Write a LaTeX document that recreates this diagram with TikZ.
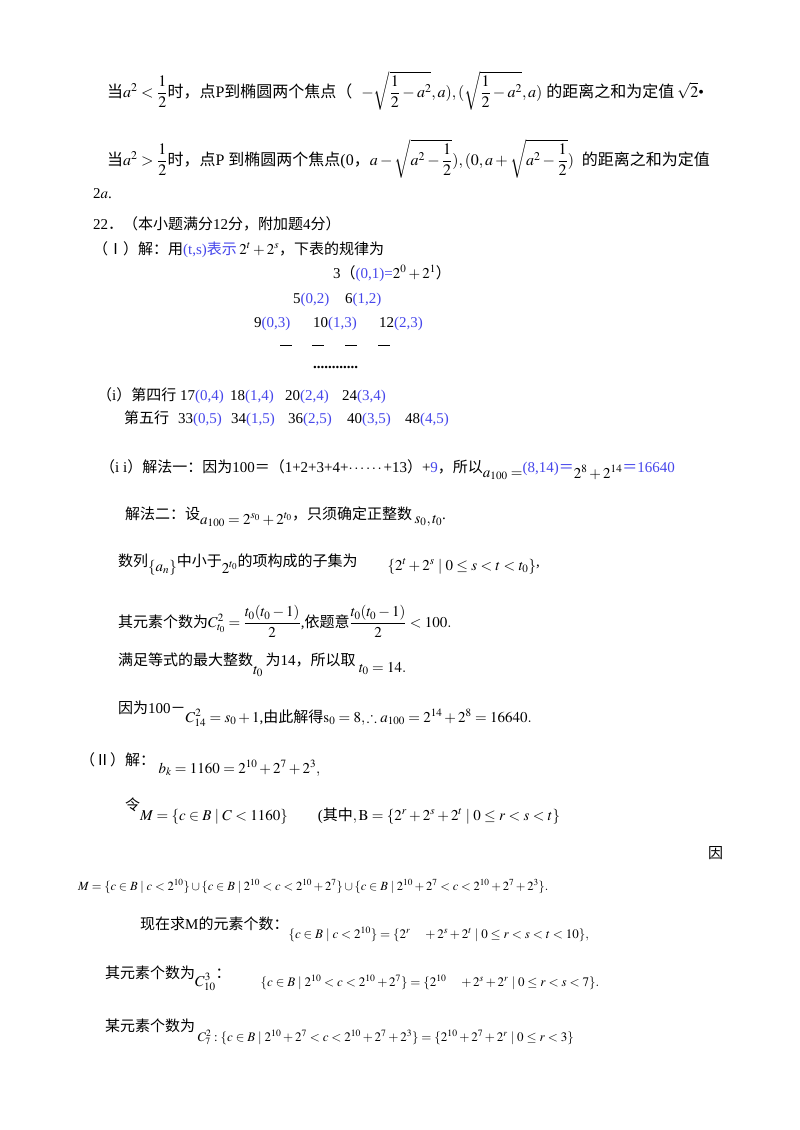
\documentclass[tikz,border=0pt]{standalone}
\usepackage{amsmath}
\usepackage{mathptmx}
\usepackage{amssymb}
\usepackage{fontspec}
\setmainfont{Liberation Serif}
\newfontfamily\cjk{Noto Sans CJK SC}
\makeatletter
\XeTeXinterchartokenstate=1
\newXeTeXintercharclass\cjkcls
\count@="4E00 \loop\ifnum\count@<"A000 \XeTeXcharclass\count@=\cjkcls\advance\count@ 1 \repeat
\count@="3000 \loop\ifnum\count@<"3040 \XeTeXcharclass\count@=\cjkcls\advance\count@ 1 \repeat
\count@="FF00 \loop\ifnum\count@<"FFF0 \XeTeXcharclass\count@=\cjkcls\advance\count@ 1 \repeat
\count@="2160 \loop\ifnum\count@<"2180 \XeTeXcharclass\count@=\cjkcls\advance\count@ 1 \repeat
\makeatother
\XeTeXinterchartoks 0 \cjkcls = {\begingroup\cjk}
\XeTeXinterchartoks 4095 \cjkcls = {\begingroup\cjk}
\XeTeXinterchartoks \cjkcls 0 = {\endgroup}
\XeTeXinterchartoks \cjkcls 4095 = {\endgroup}
\definecolor{bl}{RGB}{70,70,235}
\newcommand{\bb}[1]{\textcolor{bl}{#1}}
\begin{document}
\begin{tikzpicture}[x=1pt,y=-1pt,
  tx/.style={anchor=base west,inner sep=0pt,font=\fontsize{15}{18}\selectfont},
  big/.style={anchor=base west,inner sep=0pt,font=\fontsize{16}{19}\selectfont},
  sm/.style={anchor=base west,inner sep=0pt,font=\fontsize{12.5}{15}\selectfont}]
\useasboundingbox (0,0) rectangle (800,1130);
\fill[white] (0,0) rectangle (800,1130);
\node[big] (l1) at (107,97) {当$a^2<\dfrac12$时，点P到椭圆两个焦点（\;\;$-\sqrt{\dfrac12-a^2},a),(\sqrt{\dfrac12-a^2},a)$\ 的距离之和为定值\,$\sqrt2$\textbullet};
\node[big] (l2) at (107,165) {当$a^2>\dfrac12$时，点P 到椭圆两个焦点(0，$a-\sqrt{a^2-\dfrac12}),(0,a+\sqrt{a^2-\dfrac12})$\ \ 的距离之和为定值};
\node[tx] (l3) at (93,198) {2$a$.};
\node[tx] (l4) at (93,229) {22．（本小题满分12分，附加题4分）};
\node[tx] (l5) at (93,254) {（Ⅰ）解：用\bb{(t,s)表示}\,$2^t+2^s$，下表的规律为};
\node[tx] (r1) at (333,278) {3（\bb{(0,1)=}$2^0+2^1$）};
\node[tx] (r2a) at (293,303) {5\bb{(0,2)}};
\node[tx] (r2b) at (345,303) {6\bb{(1,2)}};
\node[tx] (r3a) at (254,327) {9\bb{(0,3)}};
\node[tx] (r3b) at (313,327) {10\bb{(1,3)}};
\node[tx] (r3c) at (379,327) {12\bb{(2,3)}};
\foreach \i/\x in {1/286,2/318,3/351,4/384}{\draw[line width=0.6pt] (\x-6,345) -- (\x+6,345);}
\node[tx] (dots) at (313,368) {\textbf{............}};
\node[tx] (i1) at (97,400) {（i）第四行};
\node[tx] (i1a) at (180,400) {17\bb{(0,4)}};
\node[tx] (i1b) at (230,400) {18\bb{(1,4)}};
\node[tx] (i1c) at (285,400) {20\bb{(2,4)}};
\node[tx] (i1d) at (342,400) {24\bb{(3,4)}};
\node[tx] (i2) at (124,423) {第五行};
\node[tx] (i2a) at (178,423) {33\bb{(0,5)}};
\node[tx] (i2b) at (231,423) {34\bb{(1,5)}};
\node[tx] (i2c) at (288,423) {36\bb{(2,5)}};
\node[tx] (i2d) at (347,423) {40\bb{(3,5)}};
\node[tx] (i2e) at (405,423) {48\bb{(4,5)}};
\node[tx] (ii) at (100,472) {（i i）解法一：因为100＝（1+2+3+4+$\cdots\cdots$+13）+\bb{9}，所以\raisebox{-5pt}{$a_{100}=$}\bb{(8,14)＝}\raisebox{-6pt}{$2^8+2^{14}$}\bb{＝16640}};
\node[tx] (m2) at (125,519) {解法二：设\raisebox{-5pt}{$a_{100}=2^{s_0}+2^{t_0}$}，只须确定正整数\,\raisebox{-4pt}{$s_0,t_0$}.};
\node[tx] (m3) at (118,566) {数列\raisebox{-5pt}{$\{a_n\}$}中小于\raisebox{-7pt}{$2^{t_0}$}的项构成的子集为\qquad \raisebox{-4pt}{$\{2^t+2^s\mid 0\le s<t<t_0\}$},};
\node[tx] (m4) at (118,627) {其元素个数为$C_{t_0}^2=\dfrac{t_0(t_0-1)}{2}$,依题意$\dfrac{t_0(t_0-1)}{2}<100.$};
\node[tx] (m5) at (118,665) {满足等式的最大整数\raisebox{-9pt}{$t_0$}\,为14，所以取\raisebox{-7pt}{$\;t_0=14.$}};
\node[tx] (m6) at (118,713) {因为100－\raisebox{-9pt}{$C_{14}^2=s_0+1$,由此解得$\mathrm{s}_0=8,\therefore a_{100}=2^{14}+2^8=16640.$}};
\node[tx] (p1) at (80,765) {（Ⅱ）解：\raisebox{-8pt}{$\;b_k=1160=2^{10}+2^7+2^3,$}};
\node[tx] (p2) at (125,810) {令\raisebox{-10pt}{$M=\{c\in B\mid C<1160\}\qquad$(其中$,\mathrm{B}=\{2^r+2^s+2^t\mid 0\le r<s<t\}$}};
\node[tx] (p3) at (708,858) {因};
\node[sm] (p4) at (78,890) {$M=\{c\in B\mid c<2^{10}\}\cup\{c\in B\mid 2^{10}<c<2^{10}+2^7\}\cup\{c\in B\mid 2^{10}+2^7<c<2^{10}+2^7+2^3\}.$};
\node[tx] (p5) at (140,929) {现在求M的元素个数：\raisebox{-9pt}{\fontsize{13}{16}\selectfont$\{c\in B\mid c<2^{10}\}=\{2^r\quad+2^s+2^t\mid 0\le r<s<t<10\},$}};
\node[tx] (p6) at (105,978) {其元素个数为\raisebox{-8pt}{$C_{10}^3$}：\qquad\raisebox{-8pt}{\fontsize{13}{16}\selectfont$\{c\in B\mid 2^{10}<c<2^{10}+2^7\}=\{2^{10}\quad+2^s+2^r\mid 0\le r<s<7\}.$}};
\node[tx] (p7) at (105,1031) {某元素个数为\,\raisebox{-10pt}{\fontsize{13}{16}\selectfont$C_7^2:\{c\in B\mid 2^{10}+2^7<c<2^{10}+2^7+2^3\}=\{2^{10}+2^7+2^r\mid 0\le r<3\}$}};
\end{tikzpicture}
\end{document}
